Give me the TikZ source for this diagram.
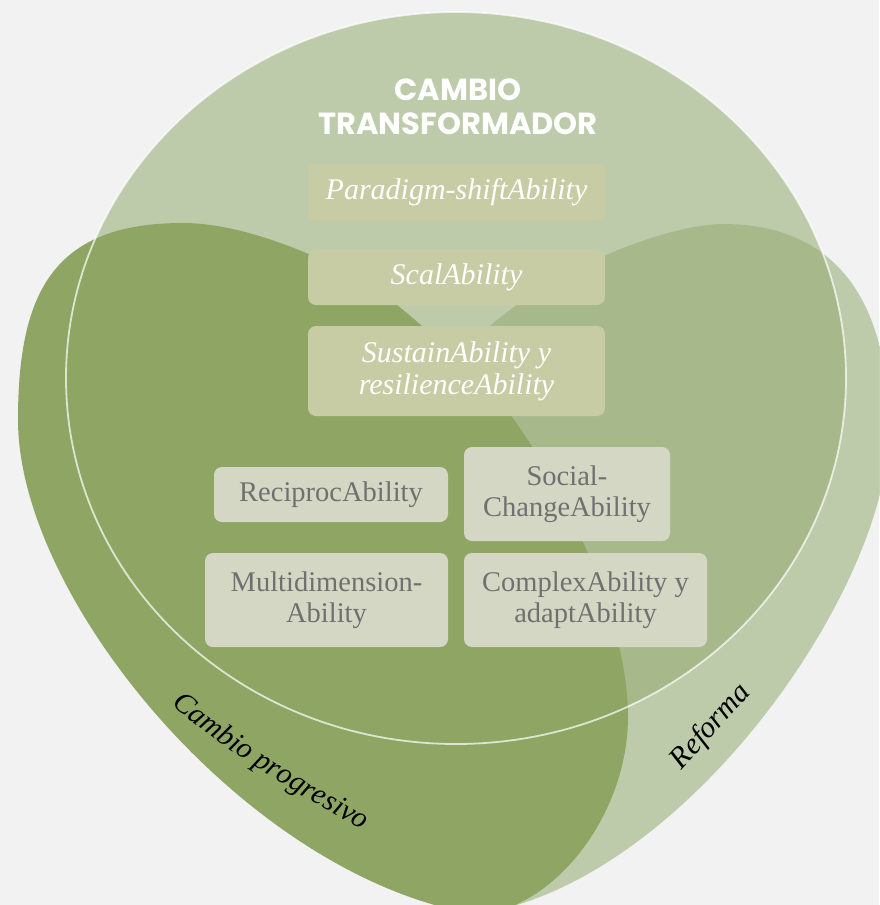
\documentclass[tikz,border=0pt]{standalone}
\usepackage{fontspec}
\setmainfont{Liberation Serif}
\newfontfamily\titlefont{Poppins}
\usetikzlibrary{decorations.text}
\definecolor{bgc}{RGB}{242,242,242}
\definecolor{lobec}{RGB}{149,171,113}
\definecolor{darkc}{RGB}{142,165,100}
\definecolor{topbox}{RGB}{200,204,164}
\definecolor{lowbox}{RGB}{213,215,197}
\definecolor{greytext}{RGB}{112,112,112}
\tikzset{
  topbox/.style={fill=topbox, rounded corners=8pt, inner sep=0pt, align=center,
    text=white, font=\fontsize{30}{32}\selectfont\itshape},
  lowbox/.style={fill=lowbox, rounded corners=8pt, inner sep=0pt, align=center,
    text=greytext, font=\fontsize{28.5}{31}\selectfont},
  lobelabel/.style={text=black, font=\fontsize{30}{30}\selectfont\itshape, inner sep=0pt}
}
\begin{document}
\begin{tikzpicture}[x=1pt,y=-1pt]
\useasboundingbox (0,0) rectangle (879,905);
\fill[bgc] (0,0) rectangle (879,905);
% big ellipse (transformative change)
\fill[lobec, fill opacity=0.55] (456,378) ellipse [x radius=390pt, y radius=366pt];
% right lobe (Reforma)
\fill[lobec, fill opacity=0.55] (723,224) .. controls (835,224) and (889,300) .. (889,430)
  .. controls (889,590) and (680,890) .. (470,915)
  -- (450,700) -- (450,400) -- (490,326)
  .. controls (560,265) and (670,224) .. (723,224) -- cycle;
% left lobe (Cambio progresivo)
\fill[darkc] (183,223) .. controls (55,223) and (18,290) .. (18,420)
  .. controls (18,600) and (250,880) .. (480,915)
  .. controls (560,905) and (628,810) .. (628,717)
  .. controls (628,620) and (565,490) .. (512,417)
  .. controls (485,380) and (422,325) .. (397,305)
  .. controls (347,265) and (250,223) .. (183,223) -- cycle;
% ellipse outline
\draw[white, draw opacity=0.7, line width=1.8pt] (456,378) ellipse [x radius=390pt, y radius=366pt];
% title
\node[text=white, font=\titlefont\bfseries\fontsize{30.5}{34}\selectfont, align=center, inner sep=0pt]
  (title) at (458,107) {CAMBIO\\TRANSFORMADOR};
% boxes
\node[topbox, minimum width=297pt, minimum height=56pt] (para) at (456.5,192) {Paradigm-shiftAbility};
\node[topbox, minimum width=297pt, minimum height=55pt] (scal) at (456.5,277.5) {ScalAbility};
\node[topbox, minimum width=297pt, minimum height=90pt] (sust) at (456.5,371) {SustainAbility y\\resilienceAbility};
\node[lowbox, minimum width=234pt, minimum height=55pt] (recip) at (331,494.5) {ReciprocAbility};
\node[lowbox, minimum width=206pt, minimum height=94pt] (social) at (567,494) {Social-\\ChangeAbility};
\node[lowbox, minimum width=243pt, minimum height=94pt] (multi) at (326.5,600) {Multidimension-\\Ability};
\node[lowbox, minimum width=243pt, minimum height=94pt] (complex) at (585.5,600) {ComplexAbility y\\adaptAbility};
% lobe labels
\node[lobelabel, rotate=48] (reforma) at (711,727) {Reforma};
\path[decorate, decoration={text along path, text align=center,
  text={|\fontsize{29.5}{29.5}\selectfont\itshape|Cambio progresivo}}]
  (172,705) .. controls (224,752) and (301,795) .. (362,830);
\end{tikzpicture}
\end{document}
